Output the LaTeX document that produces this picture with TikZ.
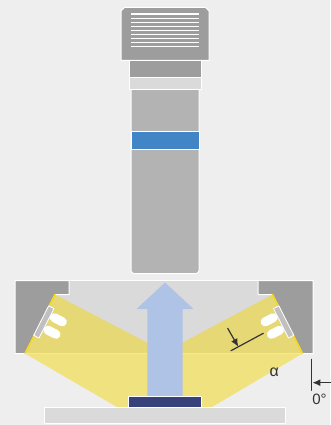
\documentclass[tikz,border=0pt]{standalone}
\usepackage{fontspec}
\setmainfont{Liberation Sans}
\usetikzlibrary{arrows.meta}
\definecolor{scopebg}{RGB}{238,238,238}
\definecolor{scopedark}{RGB}{157,157,157}
\definecolor{scopemid}{RGB}{179,179,179}
\definecolor{scopelight}{RGB}{218,218,218}
\definecolor{scopestrip}{RGB}{192,192,192}
\definecolor{scopeblue}{RGB}{66,133,198}
\definecolor{scopebeam}{RGB}{245,215,20}
\definecolor{scopearrow}{RGB}{174,195,230}
\definecolor{scopesample}{RGB}{55,65,122}
\definecolor{scopeink}{RGB}{51,51,51}
% Lampa w układzie lokalnym: s wzdłuż wiązki, t wzdłuż skosu.
\newcommand{\lampa}{%
  \draw[scopebeam,line width=1.4] (0,0) -- (0,13) (0,46) -- (0,66);
  \filldraw[fill=scopestrip,draw=white,line width=.8] (-.5,13) rectangle (5.5,46);
  \draw[white,line width=9] (10,21) -- (19,21) (10,35) -- (19,35);
}

\begin{document}
\begin{tikzpicture}[x=1pt,y=-1pt,>={Latex[length=8pt,width=7pt]},
                    line cap=round,line join=round]
  \useasboundingbox (0,0) rectangle (330,425);
  \fill[scopebg] (0,0) rectangle (330,425);
  % Głowica z kratką i korpus tubusu.
  \filldraw[fill=scopedark,draw=white,line width=1]
       (121,60.5) -- (121,11) -- (124.5,7.5) -- (205.5,7.5)
       -- (209,11) -- (209,60.5) -- cycle;
  \foreach \k in {0,...,8}
    \draw[white,line width=1.1,line cap=butt]
         (131,{14+4.1*\k}) -- (199,{14+4.1*\k});
  \filldraw[fill=scopedark,draw=white,line width=1]
       (129,60.5) rectangle (201,78);
  \filldraw[fill=scopemid,draw=white,line width=1,rounded corners=3]
       (131,82) -- (131,273.5) -- (199,273.5) -- (199,82) -- cycle;
  \filldraw[fill=scopelight,draw=white,line width=1]
       (129,78) rectangle (201,89.3);
  \filldraw[fill=scopeblue,draw=white,line width=1]
       (131,131.5) rectangle (199,149);
  % Komora oświetlacza i boczne obudowy lamp.
  \filldraw[fill=scopelight,draw=white,line width=1]
       (15,280.5) rectangle (313,353.5);
  \filldraw[fill=scopedark,draw=white,line width=1]
       (15,280.5) -- (69,280.5) -- (69,294.5) -- (55,294.5)
       -- (25,353.5) -- (15,353.5) -- cycle;
  \filldraw[fill=scopedark,draw=white,line width=1]
       (258,280.5) -- (313,280.5) -- (313,353.5) -- (302.5,353.5)
       -- (272.5,294.5) -- (258,294.5) -- cycle;
  % Wiązki światła z obu stron.
  \fill[scopebeam,opacity=.5]
       (55,294.5) -- (165,352) -- (165,407) -- (117,407)
       -- (25,353.5) -- cycle;
  \fill[scopebeam,opacity=.5]
       (272.5,294.5) -- (165,352) -- (165,407) -- (212,407)
       -- (302.5,353.5) -- cycle;
  \begin{scope}[shift={(55,294.5)},rotate=-27]
    \lampa
  \end{scope}
  \begin{scope}[shift={(272.5,294.5)},xscale=-1,rotate=-27]
    \lampa
  \end{scope}
  % Światło odbite w górę, próbka i szkiełko.
  \fill[scopearrow]
       (147.3,396) -- (147.3,309) -- (136.5,309) -- (165,282.5)
       -- (193.5,309) -- (182.7,309) -- (182.7,396) -- cycle;
  \filldraw[fill=scopesample,draw=white,line width=1]
       (128.3,396) rectangle (201.7,407);
  \filldraw[fill=scopelight,draw=white,line width=1]
       (44.3,407.3) rectangle (285,423.5);
  % Kąt padania.
  \coordinate (padA) at (227.7,328.3);
  \coordinate (padB) at (238.3,346.8);
  \coordinate (normA) at (231,350.7);
  \coordinate (normB) at (263.3,333.3);
  \draw[->,scopeink,line width=1.2] (padA) -- (padB);
  \draw[scopeink,line width=1.2] (normA) -- (normB);
  \node[scopeink,font=\fontsize{16}{18}\selectfont] (alfa)
       at (274.3,372.7) {α};
  \coordinate (pionA) at (311.7,359.3);
  \coordinate (pionB) at (311.7,390.3);
  \coordinate (zeroA) at (331,382.7);
  \coordinate (zeroB) at (312.4,382.7);
  \draw[scopeink,line width=1.2] (pionA) -- (pionB);
  \draw[->,scopeink,line width=1.2] (zeroA) -- (zeroB);
  \node[scopeink,font=\fontsize{15}{18}\selectfont] (zero)
       at (319.5,399) {0°};
\end{tikzpicture}
\end{document}
